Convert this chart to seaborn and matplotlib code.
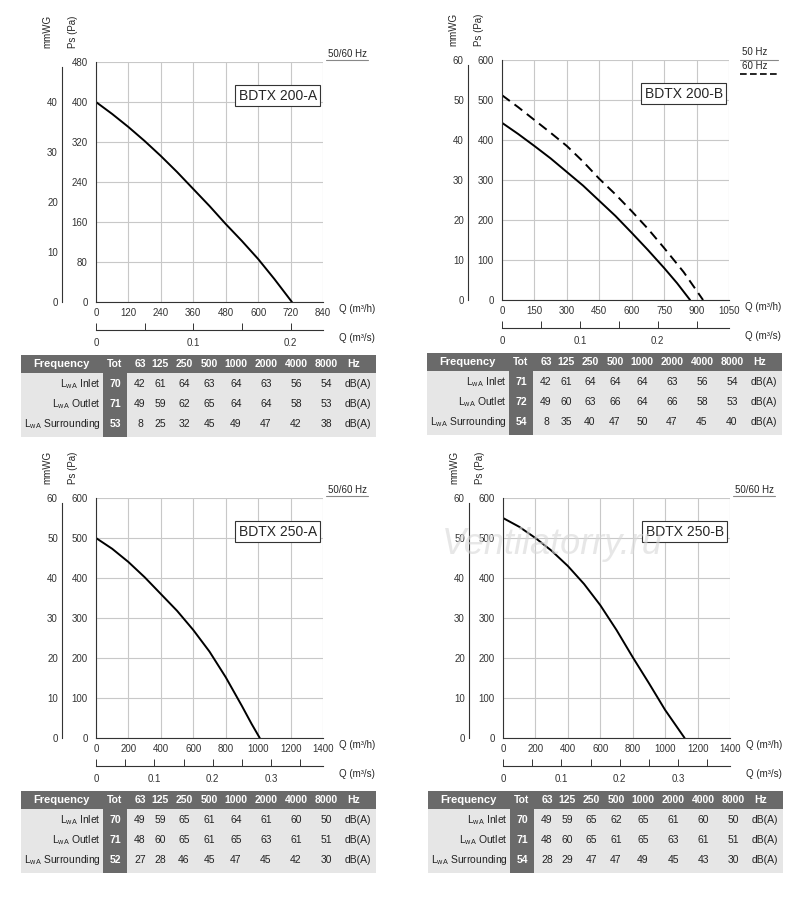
import matplotlib
matplotlib.use("Agg")
import matplotlib.pyplot as plt
import numpy as np
import pandas as pd
import seaborn as sns

sns.set_theme(style="white")
plt.rcParams["font.family"] = ["Liberation Sans", "DejaVu Sans"]

# ---- curve data (Q m3/h, Ps Pa) ----
q_200a = [0, 60, 120, 180, 240, 300, 360, 420, 480, 540, 600, 660, 725]
ps_200a = [400, 376, 350, 322, 292, 260, 226, 192, 156, 122, 86, 46, 0]
q_200b50 = [0, 75, 150, 225, 300, 375, 450, 525, 600, 675, 750, 810, 870]
ps_200b50 = [443, 415, 385, 354, 320, 286, 248, 210, 168, 125, 80, 42, 0]
q_200b60 = [0, 75, 150, 225, 300, 375, 450, 525, 600, 675, 750, 840, 930]
ps_200b60 = [512, 482, 450, 418, 385, 346, 303, 264, 222, 178, 130, 70, 0]
q_250a = [0, 100, 200, 300, 400, 500, 600, 700, 800, 900, 960, 1010]
ps_250a = [500, 473, 440, 402, 360, 318, 270, 216, 152, 80, 35, 0]
q_250b = [0, 100, 200, 300, 400, 500, 600, 700, 800, 900, 1000, 1060, 1120]
ps_250b = [550, 528, 500, 468, 430, 385, 332, 270, 202, 137, 70, 35, 0]

# ---- sound tables ----
freq_cols = ["Tot", "63", "125", "250", "500", "1000", "2000", "4000", "8000"]
row_names = ["Inlet", "Outlet", "Surrounding"]
snd_200a = [[70, 42, 61, 64, 63, 64, 63, 56, 54],
            [71, 49, 59, 62, 65, 64, 64, 58, 53],
            [53, 8, 25, 32, 45, 49, 47, 42, 38]]
snd_200b = [[71, 42, 61, 64, 64, 64, 63, 56, 54],
            [72, 49, 60, 63, 66, 64, 66, 58, 53],
            [54, 8, 35, 40, 47, 50, 47, 45, 40]]
snd_250a = [[70, 49, 59, 65, 61, 64, 61, 60, 50],
            [71, 48, 60, 65, 61, 65, 63, 61, 51],
            [52, 27, 28, 46, 45, 47, 45, 42, 30]]
snd_250b = [[70, 49, 59, 65, 62, 65, 61, 60, 50],
            [71, 48, 60, 65, 61, 65, 63, 61, 51],
            [54, 28, 29, 47, 47, 49, 45, 43, 30]]

W, H = 800, 900
fig = plt.figure(figsize=(8, 9), dpi=100)


def px(x0, y0, x1, y1):
    return [x0 / W, 1 - y1 / H, (x1 - x0) / W, (y1 - y0) / H]


def panel(ox, oy, name, xmax, xstep, xminor, ymax, ystep, mmmax, curves, sound, hz):
    ax = fig.add_axes(px(ox + 96, oy + 62, ox + 323, oy + 302))
    ax.patch.set_alpha(0)
    for q, p, ls in curves:
        df = pd.DataFrame({"Q": q, "Ps": p})
        sns.lineplot(data=df, x="Q", y="Ps", ax=ax, color="black", lw=1.4,
                     linestyle=ls)
    ax.set_xlim(0, xmax)
    ax.set_ylim(0, ymax)
    ax.set_xticks(np.arange(0, xmax + 1, xstep))
    ax.set_yticks(np.arange(0, ymax + 1, ystep))
    ax.set_xticks(np.arange(0, xmax + 1, xminor), minor=True)
    ax.set_yticks(np.arange(0, ymax + 1, ystep / 4), minor=True)
    ax.grid(True, color="#c8c8c8", lw=0.8)
    ax.set_xlabel("")
    ax.set_ylabel("")
    for s in ["top", "right"]:
        ax.spines[s].set_visible(False)
    for s in ["left", "bottom"]:
        ax.spines[s].set_color("#333333")
        ax.spines[s].set_linewidth(0.8)
    ax.tick_params(axis="x", which="both", direction="in", length=5, width=0.7,
                   labelsize=7, pad=4, colors="#333333")
    ax.tick_params(axis="y", which="both", direction="out", length=4, width=0.7,
                   labelsize=7, pad=2, colors="#333333")
    ax.text(-0.1, 1.06, "Ps (Pa)", rotation=90, fontsize=7,
            transform=ax.transAxes, ha="center", va="bottom")
    ax.text(1.07, -0.01, "Q (m³/h)", fontsize=7, transform=ax.transAxes,
            ha="left", va="top")
    ax.text(0.80, 0.86, name, fontsize=10, transform=ax.transAxes,
            ha="center", va="center",
            bbox=dict(boxstyle="square,pad=0.25", fc="white", ec="#333333", lw=0.8))
    if len(hz) == 1:
        fig.text((ox + 328) / W, 1 - (oy + 57) / H, hz[0], fontsize=7)
        fig.add_artist(plt.Line2D([(ox + 326) / W, (ox + 368) / W],
                                  [1 - (oy + 60) / H] * 2, color="#888888", lw=0.8))
    else:
        fig.text((ox + 336) / W, 1 - (oy + 57) / H, hz[0], fontsize=7)
        fig.add_artist(plt.Line2D([(ox + 334) / W, (ox + 372) / W],
                                  [1 - (oy + 62) / H] * 2, color="#888888", lw=0.8))
        fig.text((ox + 336) / W, 1 - (oy + 71) / H, hz[1], fontsize=7)
        fig.add_artist(plt.Line2D([(ox + 334) / W, (ox + 372) / W],
                                  [1 - (oy + 76) / H] * 2, color="black", lw=1.2,
                                  linestyle=(0, (4, 2))))

    # mmWG axis
    am = fig.add_axes(px(ox + 62, oy + 62, ox + 70, oy + 302))
    am.set_ylim(0, mmmax)
    am.set_yticks(np.arange(0, mmmax + 1, 10))
    am.set_yticks(np.arange(0, mmmax + 1, 5), minor=True)
    am.set_xticks([])
    am.patch.set_alpha(0)
    for s in ["top", "right", "bottom"]:
        am.spines[s].set_visible(False)
    am.spines["left"].set_color("#333333")
    am.spines["left"].set_linewidth(0.8)
    am.spines["left"].set_bounds(0, mmmax * 0.98)
    am.tick_params(axis="y", which="both", direction="in", length=4, width=0.7,
                   labelsize=7, pad=3, colors="#333333")
    am.text(-1.8, 1.06, "mmWG", rotation=90, fontsize=7,
            transform=am.transAxes, ha="center", va="bottom")

    # m3/s axis
    asx = fig.add_axes(px(ox + 96, oy + 320, ox + 323, oy + 330))
    asx.set_xlim(0, xmax / 3600)
    asx.set_ylim(0, 1)
    asx.set_xticks(np.arange(0, xmax / 3600, 0.1))
    asx.set_xticks(np.arange(0, xmax / 3600, 0.05), minor=True)
    asx.set_yticks([])
    asx.patch.set_alpha(0)
    for s in ["top", "right", "left"]:
        asx.spines[s].set_visible(False)
    asx.spines["bottom"].set_visible(True)
    asx.spines["bottom"].set_color("#333333")
    asx.spines["bottom"].set_linewidth(0.8)
    asx.tick_params(axis="x", which="both", direction="in", length=5, width=0.7,
                    labelsize=7, pad=6, colors="#333333", bottom=True)
    asx.set_xticklabels(["0", "0.1", "0.2", "0.3"][:len(asx.get_xticks())])
    asx.text(1.07, -0.3, "Q (m³/s)", fontsize=7, transform=asx.transAxes,
             ha="left", va="top")

    # table
    at = fig.add_axes(px(ox + 21, oy + 355, ox + 376, oy + 437))
    at.set_xlim(0, 355)
    at.set_ylim(82, 0)
    at.axis("off")
    at.add_patch(plt.Rectangle((0, 18), 355, 64, color="#e6e6e6", lw=0))
    at.add_patch(plt.Rectangle((0, 0), 355, 18, color="#6a6a6a", lw=0))
    at.add_patch(plt.Rectangle((82, 18), 24, 64, color="#6a6a6a", lw=0))
    at.text(40, 9, "Frequency", color="white", fontsize=8, fontweight="bold",
            ha="center", va="center")
    xs = [94, 119, 139, 163, 188, 215, 245, 275, 305]
    for x, c in zip(xs, freq_cols):
        at.text(x, 9, c, color="white", fontsize=7.5, fontweight="bold",
                ha="center", va="center")
    at.text(333, 9, "Hz", color="white", fontsize=7.5, fontweight="bold",
            ha="center", va="center")
    for i, (rn, vals) in enumerate(zip(row_names, sound)):
        y = 29 + i * 20
        at.text(80, y, "L$_{\\mathregular{wA}}$ " + rn, fontsize=7.5,
                ha="right", va="center", color="#222222")
        for j, (x, v) in enumerate(zip(xs, vals)):
            at.text(x, y, str(v), fontsize=7.5, ha="center", va="center",
                    color="white" if j == 0 else "#222222",
                    fontweight="bold" if j == 0 else "normal")
        at.text(337, y, "dB(A)", fontsize=7.5, ha="center", va="center",
                color="#222222")


panel(0, 0, "BDTX 200-A", 840, 120, 30, 480, 80, 48,
      [(q_200a, ps_200a, "-")], snd_200a, ["50/60 Hz"])
panel(406, -2, "BDTX 200-B", 1050, 150, 37.5, 600, 100, 60,
      [(q_200b50, ps_200b50, "-"), (q_200b60, ps_200b60, (0, (5, 3)))],
      snd_200b, ["50 Hz", "60 Hz"])
panel(0, 436, "BDTX 250-A", 1400, 200, 50, 600, 100, 60,
      [(q_250a, ps_250a, "-")], snd_250a, ["50/60 Hz"])
panel(407, 436, "BDTX 250-B", 1400, 200, 50, 600, 100, 60,
      [(q_250b, ps_250b, "-")], snd_250b, ["50/60 Hz"])

fig.text(0.69, 1 - 545 / H, "Ventilatorry.ru", fontsize=26, style="italic",
         color="#d8d8d8", alpha=0.6, ha="center", va="center", zorder=10)

fig.savefig("out.png", dpi=100)
